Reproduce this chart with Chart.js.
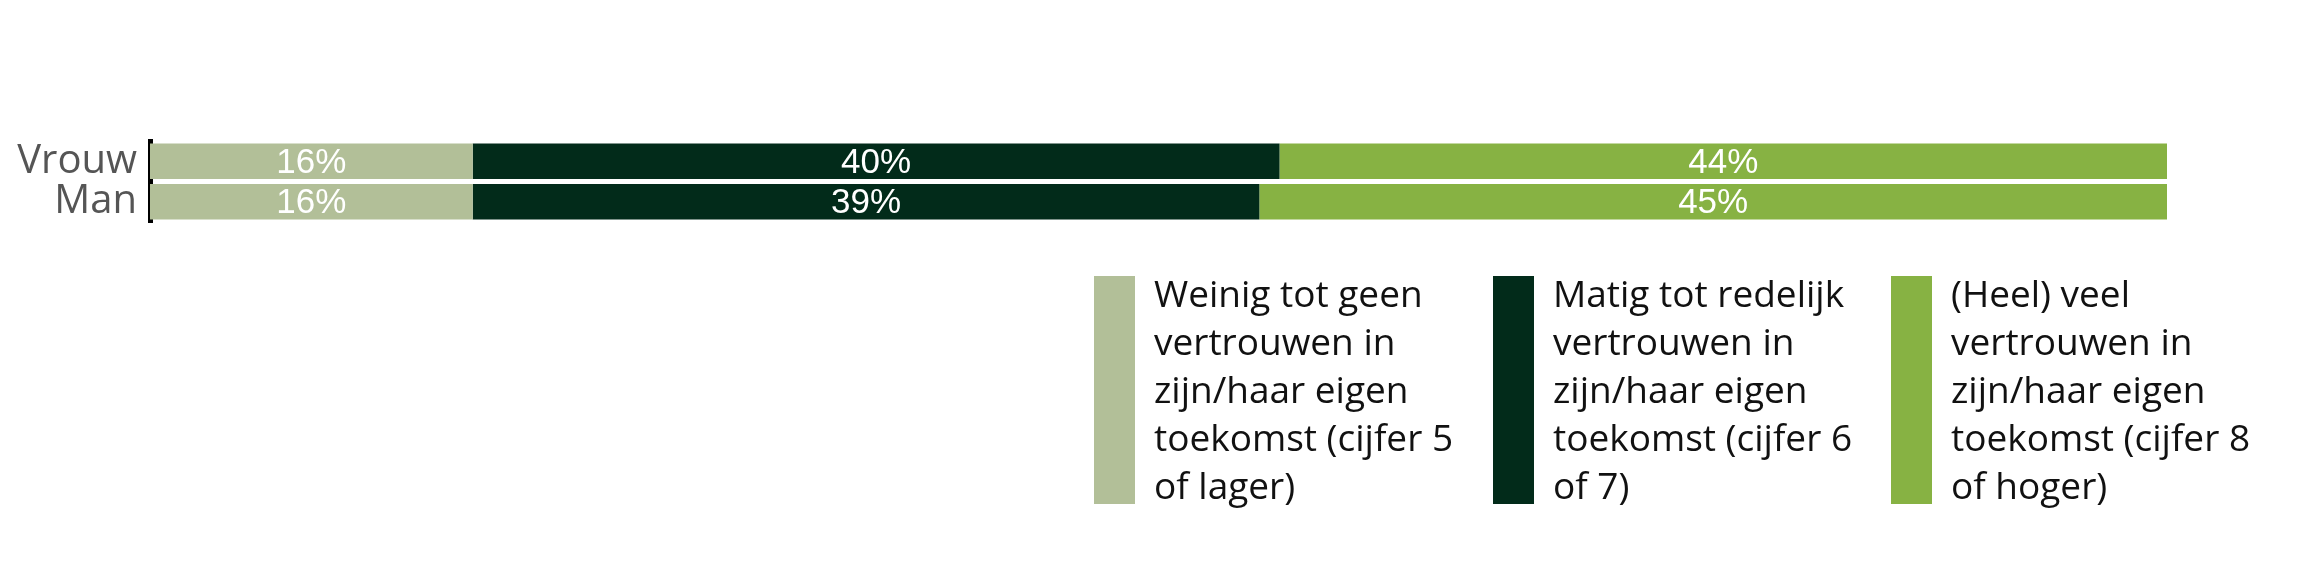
<!DOCTYPE html>
<html lang="nl">
  <head>
    <meta charset="UTF-8" />
    <script src="https://cdn.jsdelivr.net/npm/chart.js@4/dist/chart.umd.min.js"></script>
    <title>Vertrouwen in eigen toekomst</title>
    <style>
      body { margin: 0; background: #fff; }
    </style>
  </head>
  <body>
    <canvas id="chart" width="2304" height="576"></canvas>
    <script>
      // data
      const categories = ["Vrouw", "Man"];
      const weinig = [16, 16];
      const matig = [40, 39];
      const veel = [44, 45];
      const seriesLabels = [
        ["Weinig tot geen", "vertrouwen in", "zijn/haar eigen", "toekomst (cijfer 5", "of lager)"],
        ["Matig tot redelijk", "vertrouwen in", "zijn/haar eigen", "toekomst (cijfer 6", "of 7)"],
        ["(Heel) veel", "vertrouwen in", "zijn/haar eigen", "toekomst (cijfer 8", "of hoger)"],
      ];
      const colors = ["#b2bf98", "#022b1a", "#87b243"];

      // labels in the middle of each segment
      const valueLabels = {
        id: "valueLabels",
        afterDatasetsDraw(chart) {
          const ctx = chart.ctx;
          ctx.save();
          ctx.font = "35px 'Liberation Sans', Arial, sans-serif";
          ctx.fillStyle = "#ffffff";
          ctx.textAlign = "center";
          ctx.textBaseline = "middle";
          chart.data.datasets.forEach((ds, i) => {
            const meta = chart.getDatasetMeta(i);
            meta.data.forEach((bar, j) => {
              const x = (bar.x + bar.base) / 2;
              ctx.fillText(ds.data[j] + "%", x, bar.y + 2);
            });
          });
          ctx.restore();
        },
      };

      // legend with tall boxes and wrapped text
      const boxLegend = {
        id: "boxLegend",
        afterDraw(chart) {
          const ctx = chart.ctx;
          const left = [1094, 1493, 1891];
          ctx.save();
          ctx.font = "37px 'Open Sans', sans-serif";
          ctx.textBaseline = "middle";
          ctx.textAlign = "left";
          chart.data.datasets.forEach((ds, i) => {
            ctx.fillStyle = ds.backgroundColor;
            ctx.fillRect(left[i], 276, 41, 228);
            ctx.fillStyle = "#111";
            ds.legendLines.forEach((line, k) => {
              ctx.fillText(line, left[i] + 60, 296 + k * 48);
            });
          });
          ctx.restore();
        },
      };

      const sets = [weinig, matig, veel].map((d, i) => ({
        label: seriesLabels[i].join(" "),
        legendLines: seriesLabels[i],
        data: d,
        backgroundColor: colors[i],
        borderWidth: 0,
        barPercentage: 0.875,
        categoryPercentage: 1,
      }));

      new Chart(document.getElementById("chart"), {
        type: "bar",
        data: { labels: categories, datasets: sets },
        plugins: [valueLabels, boxLegend],
        options: {
          indexAxis: "y",
          responsive: false,
          animation: false,
          devicePixelRatio: 1,
          layout: { padding: { top: 141, right: 137, bottom: 354, left: 0 } },
          plugins: { legend: { display: false }, tooltip: { enabled: false } },
          scales: {
            x: { stacked: true, min: 0, max: 100, display: false },
            y: {
              stacked: true,
              grid: { display: false, drawTicks: false },
              border: { display: true, color: "#000", width: 5 },
              ticks: {
                color: "#555",
                padding: 13,
                autoSkip: false,
                font: { family: "'Open Sans', sans-serif", size: 40 },
              },
              afterFit(scale) {
                scale.width = 150;
              },
            },
          },
        },
      });
    </script>
  </body>
</html>
